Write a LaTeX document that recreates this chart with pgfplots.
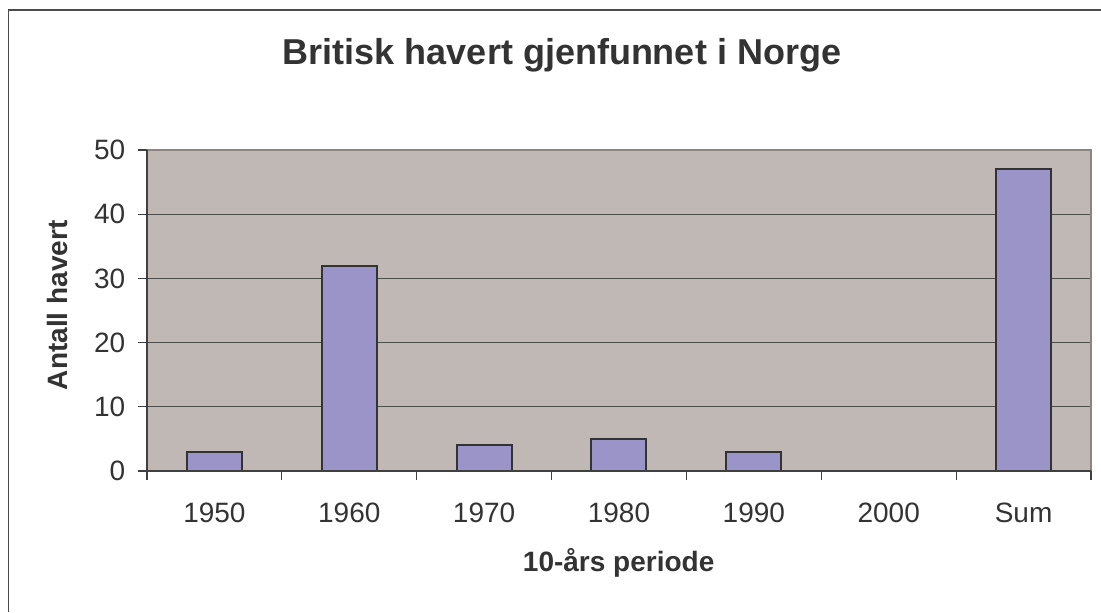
\documentclass[border=0pt]{standalone}
\usepackage{fontspec}
\setmainfont{Liberation Sans}
\usepackage{pgfplots}
\pgfplotsset{compat=1.18}
\definecolor{plotbg}{HTML}{C0B8B5}
\definecolor{barfill}{HTML}{9B94C8}
\definecolor{txt}{HTML}{333333}
\definecolor{edge}{HTML}{8C8480}
\begin{document}
\begin{tikzpicture}[x=1pt,y=1pt]
\useasboundingbox (0,0) rectangle (825.75,459);
\draw[line width=1.1pt, black!70] (6.4,0) -- (6.4,451.5) -- (825.75,451.5);
\begin{axis}[
  at={(110.25pt,105.75pt)}, anchor=south west,
  width=708pt, height=240.75pt, scale only axis,
  xmin=-0.5, xmax=6.5, ymin=0, ymax=50,
  ytick={0,10,...,50},
  xtick={0,...,6},
  xticklabels={1950,1960,1970,1980,1990,2000,Sum},
  minor xtick={-0.5,0.5,...,6.5},
  xtick pos=bottom, ytick pos=left,
  major x tick style={draw=none},
  minor x tick style={draw=black!75, line width=0.8pt},
  y tick style={draw=black!75, line width=0.8pt},
  tick align=outside,
  major tick length=6.75pt, minor tick length=6.75pt,
  ymajorgrids,
  grid style={draw=black!70, line width=0.75pt},
  axis background/.style={fill=plotbg},
  axis line style={draw=none},
  /pgf/number format/assume math mode=true,
  tick label style={font=\fontsize{21}{25}\selectfont, text=txt},
  xticklabel style={yshift=-14pt},
  yticklabel style={xshift=-6pt},
  ybar, bar width=41.25pt,
  clip=false,
]
\addplot[fill=barfill, draw=black!80, line width=1.5pt] coordinates {
  (0,3) (1,32) (2,4) (3,5) (4,3) (5,0) (6,47)
};
\draw[edge, line width=1.2pt] (rel axis cs:0,1) -- (rel axis cs:1,1) -- (rel axis cs:1,0);
\draw[black!75, line width=1.2pt] (rel axis cs:0,1) -- (rel axis cs:0,0) -- (rel axis cs:1,0);
\end{axis}
\node[anchor=base, text=txt, font=\fontsize{27}{32}\selectfont\bfseries] at (421.5,410.25) {Britisk havert gjenfunnet i Norge};
\node[anchor=base, text=txt, font=\fontsize{21}{25}\selectfont\bfseries] at (464,30.75) {10-års periode};
\node[anchor=base, rotate=90, text=txt, font=\fontsize{21}{25}\selectfont\bfseries] at (50.5,230) {Antall havert};
\end{tikzpicture}
\end{document}
